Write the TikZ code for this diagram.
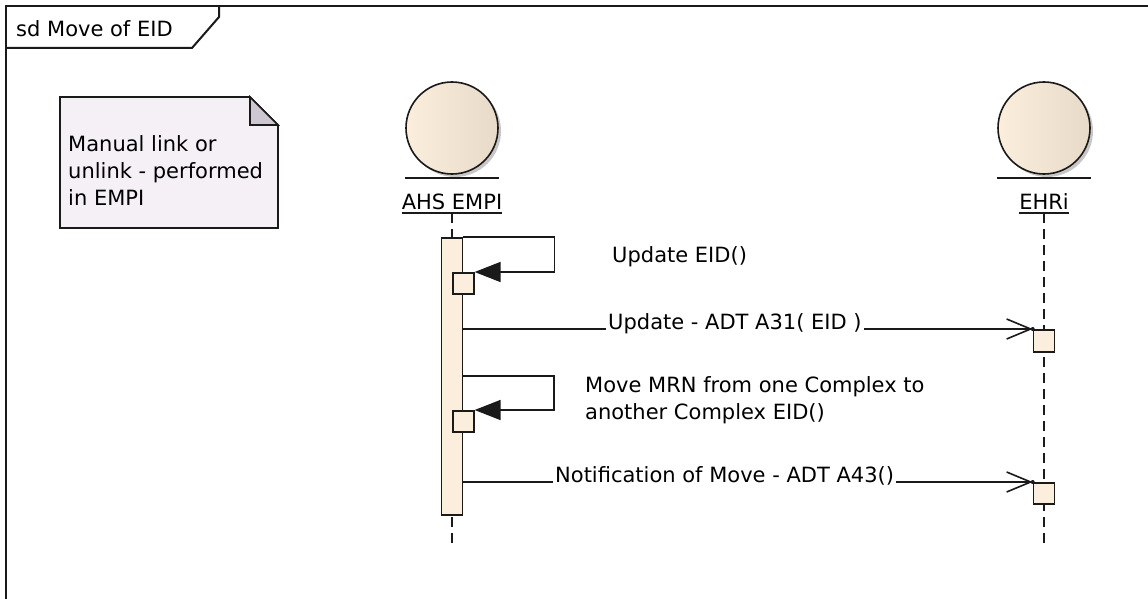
\documentclass[tikz,border=0pt]{standalone}
\usepackage{fontspec}
\setmainfont{DejaVu Sans}
\usepackage{tikz}
\usetikzlibrary{arrows.meta}
\definecolor{sd_cream}{HTML}{FCEEDC}
\definecolor{sd_creamdark}{HTML}{E8DAC8}
\definecolor{sd_note}{HTML}{F4F0F6}
\definecolor{sd_fold}{HTML}{CCC7D0}
\definecolor{sd_line}{HTML}{1A1A1A}
\newcommand{\sdfont}{\fontsize{21}{27}\selectfont}

\begin{document}
\begin{tikzpicture}[
    x=1pt, y=-1pt,
    every node/.style={font=\sdfont, text=black},
    frameline/.style={sd_line, line width=2pt},
    thinline/.style={sd_line, line width=1.6pt},
    lifedash/.style={sd_line, line width=1.6pt, dash pattern=on 10pt off 6pt},
    lifehead/.style={circle, draw=sd_line, line width=1.6pt, minimum size=92pt,
        inner sep=0pt, left color=sd_cream, right color=sd_creamdark},
    lifename/.style={anchor=base, inner sep=0pt},
    actbar/.style={draw=sd_line, line width=1.6pt, fill=sd_cream, minimum width=21pt, inner sep=0pt},
    actbox/.style={draw=sd_line, line width=1.6pt, fill=sd_cream, minimum width=21pt,
        minimum height=21pt, inner sep=0pt},
    selfcall/.style={thinline, -{Triangle[length=26pt, width=20pt]}},
    asyncmsg/.style={thinline, -{Straight Barb[length=24pt, width=20pt]}},
    msglabel/.style={anchor=base west, fill=white, inner xsep=2pt, inner ysep=0pt}
]

% Page: 1148 x 599, y runs downwards
\useasboundingbox (0,0) rectangle (1148,599);
\clip (0,0) rectangle (1148,599);
\fill[white] (0,0) rectangle (1148,599);

% Interaction frame (runs off the right and bottom)
\draw[frameline] (6,620) -- (6,6) -- (1170,6);
\draw[frameline] (6,48) -- (192,48) -- (219,17) -- (219,6);
\node[anchor=base west, inner sep=0pt] (frameName) at (16,37) {sd Move of EID};

% Note with folded corner
\filldraw[thinline, fill=sd_note] (60,97) -- (250,97) -- (278,125) -- (278,228) -- (60,228) -- cycle;
\filldraw[thinline, fill=sd_fold] (250,97) -- (250,125) -- (278,125) -- cycle;
\node[anchor=north west, align=left, inner sep=0pt] (noteText) at (68,135)
    {Manual link or\\unlink - performed\\in EMPI};

% Lifeline heads (with a soft shadow)
\fill[black!22] (455,131) circle (46pt);
\fill[black!22] (1047,131) circle (46pt);
\node[lifehead] (empiHead) at (452,128) {};
\node[lifehead] (ehriHead) at (1044,128) {};
\draw[thinline] ([xshift=-47pt,yshift=-3pt]empiHead.south) -- ([xshift=47pt,yshift=-3pt]empiHead.south);
\draw[thinline] ([xshift=-47pt,yshift=-3pt]ehriHead.south) -- ([xshift=47pt,yshift=-3pt]ehriHead.south);

% Lifeline names, underlined
\node[lifename] (empiName) at (452,209) {AHS EMPI};
\node[lifename] (ehriName) at (1044,209) {EHRi};
\draw[thinline] ([yshift=-4pt]empiName.base west) -- ([yshift=-4pt]empiName.base east);
\draw[thinline] ([yshift=-4pt]ehriName.base west) -- ([yshift=-4pt]ehriName.base east);

% Dashed lifelines
\coordinate (empiFoot) at (452,548);
\coordinate (ehriFoot) at (1044,548);
\draw[lifedash] ([yshift=-4pt]empiName.base) -- (empiFoot);
\draw[lifedash] ([yshift=-4pt]ehriName.base) -- (ehriFoot);

% Activation bar and execution boxes
\node[actbar, minimum height=277pt, anchor=north] (empiBar) at (452,237) {};
\node[actbox, anchor=north west] (updBox) at (452,272) {};
\node[actbox, anchor=north west] (moveBox) at (452,410) {};
\node[actbox, minimum height=22pt, anchor=north] (ehriA) at (1044,329) {};
\node[actbox, anchor=north] (ehriB) at (1044,482) {};

% Self call: Update EID()
\draw[selfcall] (empiBar.north east) -- ++(91,0) |- (updBox.north east);
\node[anchor=base west, inner sep=0pt] (updLabel) at (612,262) {Update EID()};

% Message to EHRi: A31
\draw[asyncmsg] (empiBar.east |- ehriA.north) -- (ehriA.north west);
\fill[sd_line] (ehriA.north west) circle (2pt);
\node[msglabel] (a31Label) at (606,329) {Update - ADT A31( EID )};

% Self call: move MRN
\coordinate (moveOut) at (462,376);
\draw[selfcall] (moveOut) -- ++(92,0) |- (moveBox.north east);
\node[anchor=north west, align=left, inner sep=0pt] (moveLabel) at (585,376)
    {Move MRN from one Complex to\\another Complex EID()};

% Message to EHRi: A43
\draw[asyncmsg] (empiBar.east |- ehriB.north) -- (ehriB.north west);
\fill[sd_line] (ehriB.north west) circle (2pt);
\node[msglabel] (a43Label) at (553,482) {Notification of Move - ADT A43()};

\end{tikzpicture}
\end{document}
